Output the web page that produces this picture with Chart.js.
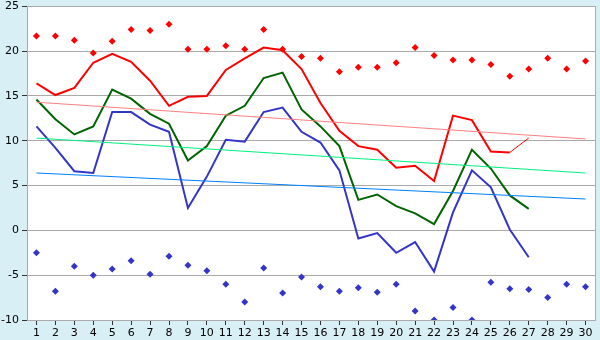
<!DOCTYPE html>
<html lang="en">
<head>
  <meta charset="UTF-8">
  <title>Temperature chart</title>
  <script src="https://cdn.jsdelivr.net/npm/chart.js"></script>
  <style>
    html, body {
      margin: 0;
      padding: 0;
      background: #d9eff6;
    }
    #wrap {
      width: 600px;
      height: 340px;
    }
  </style>
</head>
<body>
  <div id="wrap"><canvas id="tempChart" width="600" height="340"></canvas></div>

  <script>
    const days = [];
    for (let d = 1; d <= 30; d++) days.push(String(d));

    // daily line values (days 1..27)
    const redLine = [16.4, 15.1, 15.9, 18.7, 19.7, 18.8, 16.7, 13.9, 14.9, 15.0,
      17.9, 19.2, 20.4, 20.1, 18.0, 14.2, 11.1, 9.4, 9.0, 7.0,
      7.2, 5.5, 12.8, 12.3, 8.8, 8.7, 10.3];
    const greenLine = [14.6, 12.4, 10.7, 11.6, 15.7, 14.7, 13.0, 11.9, 7.8, 9.4,
      12.8, 13.9, 17.0, 17.6, 13.5, 11.6, 9.4, 3.4, 4.0, 2.7,
      1.9, 0.7, 4.4, 9.0, 6.9, 3.9, 2.4];
    const blueLine = [11.6, 9.2, 6.6, 6.4, 13.2, 13.2, 11.8, 11.0, 2.5, 6.0,
      10.1, 9.9, 13.2, 13.7, 11.0, 9.8, 6.7, -0.9, -0.3, -2.5,
      -1.3, -4.6, 2.0, 6.7, 4.8, 0.1, -3.0];

    // diamond markers (days 1..30)
    const redPoints = [21.7, 21.7, 21.2, 19.8, 21.1, 22.4, 22.3, 23.0, 20.2, 20.2,
      20.6, 20.2, 22.4, 20.2, 19.4, 19.2, 17.7, 18.2, 18.2, 18.7,
      20.4, 19.5, 19.0, 19.0, 18.5, 17.2, 18.0, 19.2, 18.0, 18.9];
    const bluePoints = [-2.5, -6.8, -4.0, -5.0, -4.3, -3.4, -4.9, -2.9, -3.9, -4.5,
      -6.0, -8.0, -4.2, -7.0, -5.2, -6.3, -6.8, -6.4, -6.9, -6.0,
      -9.0, -10.0, -8.6, -10.0, -5.8, -6.5, -6.6, -7.5, -6.0, -6.3];

    // trend line ends (day 1, day 30)
    const redTrend = [14.3, 10.2];
    const greenTrend = [10.3, 6.4];
    const blueTrend = [6.4, 3.5];

    const yTicks = [-10, -5, 0, 5, 10, 15, 20, 25];

    function trendData(ends) {
      const arr = days.map(() => null);
      arr[0] = ends[0];
      arr[arr.length - 1] = ends[1];
      return arr;
    }

    const plotBg = {
      id: 'plotBg',
      beforeDraw(chart) {
        const a = chart.chartArea;
        const ctx = chart.ctx;
        ctx.save();
        ctx.fillStyle = '#ffffff';
        ctx.fillRect(a.left, a.top, a.right - a.left, a.bottom - a.top);
        ctx.restore();
      },
      afterDraw(chart) {
        const a = chart.chartArea;
        const ctx = chart.ctx;
        ctx.save();
        ctx.strokeStyle = '#aaaaaa';
        ctx.lineWidth = 1;
        ctx.strokeRect(Math.round(a.left) + 0.5, Math.round(a.top) + 0.5,
          Math.round(a.right - a.left), Math.round(a.bottom - a.top));
        ctx.restore();
      }
    };

    const lineOpts = { pointRadius: 0, fill: false, tension: 0, borderWidth: 2 };
    const trendOpts = { pointRadius: 0, fill: false, tension: 0, borderWidth: 1, spanGaps: true };
    const markOpts = { showLine: false, pointStyle: 'rectRot', pointRadius: 3.5, borderWidth: 0 };

    new Chart(document.getElementById('tempChart').getContext('2d'), {
      type: 'line',
      data: {
        labels: days,
        datasets: [
          Object.assign({ data: trendData(redTrend), borderColor: '#ff8080' }, trendOpts),
          Object.assign({ data: trendData(greenTrend), borderColor: '#00f080' }, trendOpts),
          Object.assign({ data: trendData(blueTrend), borderColor: '#0080ff' }, trendOpts),
          Object.assign({ data: blueLine, borderColor: '#3434c8' }, lineOpts),
          Object.assign({ data: greenLine, borderColor: '#006400' }, lineOpts),
          Object.assign({
            data: redLine, borderColor: '#ff0000',
            segment: { borderWidth: c => c.p1DataIndex === 26 ? 1 : 2 }
          }, lineOpts),
          Object.assign({ data: redPoints, backgroundColor: '#ff0000', pointBackgroundColor: '#ff0000' }, markOpts),
          Object.assign({ data: bluePoints, backgroundColor: '#3434c8', pointBackgroundColor: '#3434c8' }, markOpts)
        ]
      },
      options: {
        responsive: false,
        animation: false,
        layout: { padding: { top: 0, right: 5, left: 0, bottom: 0 } },
        plugins: { legend: { display: false }, tooltip: { enabled: false } },
        scales: {
          x: {
            offset: true,
            grid: { drawOnChartArea: false, drawTicks: true, tickLength: 5, tickColor: '#333333', offset: false },
            border: { display: false },
            ticks: { color: '#000000', font: { family: 'DejaVu Sans', size: 11 }, padding: 2, maxRotation: 0, autoSkip: false },
            afterFit(s) { s.height = 20; }
          },
          y: {
            min: -10,
            max: 25,
            afterBuildTicks(s) { s.ticks = yTicks.map(v => ({ value: v })); },
            grid: { color: '#aaaaaa', tickLength: 5, tickColor: '#333333' },
            border: { display: false },
            ticks: { color: '#000000', font: { family: 'DejaVu Sans', size: 11, lineHeight: 0.6 }, padding: 3 },
            afterFit(s) { s.width = 27; }
          }
        }
      },
      plugins: [plotBg]
    });
  </script>
</body>
</html>
